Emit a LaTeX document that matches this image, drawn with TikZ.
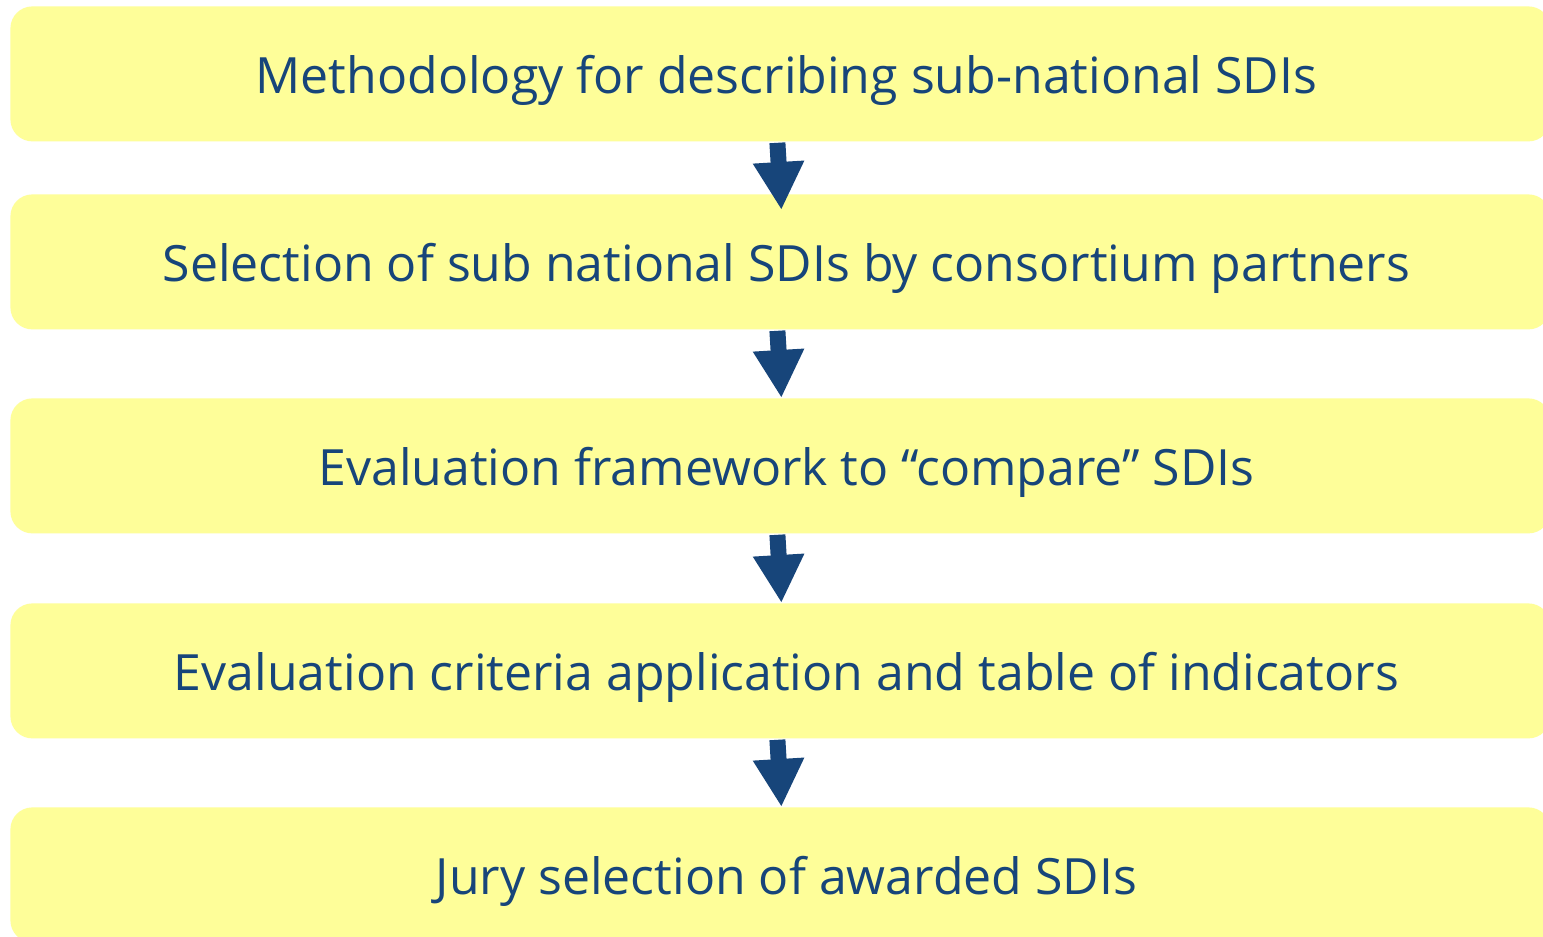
\documentclass[tikz,border=0pt]{standalone}
\usepackage{fontspec}
\setmainfont{Open Sans}
\usetikzlibrary{arrows.meta}
\definecolor{boxyellow}{HTML}{FEFE99}
\definecolor{navy}{HTML}{17457A}
\newcommand{\steptext}[1]{\hspace*{6pt}#1}
\tikzset{
  stepbox/.style={rectangle, rounded corners=11pt, fill=boxyellow, draw=none,
    minimum width=770pt, minimum height=67.5pt, inner sep=0pt, anchor=north west,
    text height=19.5pt, text depth=0pt,
    text=navy, font=\fontsize{25pt}{30pt}\selectfont},
  bigarrow/.style={draw=navy, line width=8pt, -{Triangle[width=24pt,length=24pt]}}
}
\begin{document}
\begin{tikzpicture}[x=0.5pt,y=-0.5pt]
\clip (0,0) rectangle (1543,937);
\fill[white] (0,0) rectangle (1543,937);
\node[stepbox] (b1) at (10,6) {\steptext{Methodology for describing sub-national SDIs}};
\node[stepbox] (b2) at (10,194) {\steptext{Selection of sub national SDIs by consortium partners}};
\node[stepbox] (b3) at (10,398) {\steptext{Evaluation framework to “compare” SDIs}};
\node[stepbox] (b4) at (10,603) {\steptext{Evaluation criteria application and table of indicators}};
\node[stepbox] (b5) at (10,807) {\steptext{Jury selection of awarded SDIs}};
\draw[bigarrow] ([xshift=-1.5pt,yshift=-0.5pt]b1.south) -- ([xshift=0.5pt,yshift=-8pt]b2.north);
\draw[bigarrow] ([xshift=-1.5pt,yshift=-0.5pt]b2.south) -- ([xshift=0.5pt,yshift=0pt]b3.north);
\draw[bigarrow] ([xshift=-1.5pt,yshift=-0.5pt]b3.south) -- ([xshift=0.5pt,yshift=0pt]b4.north);
\draw[bigarrow] ([xshift=-1.5pt,yshift=-0.5pt]b4.south) -- ([xshift=0.5pt,yshift=0pt]b5.north);
\end{tikzpicture}
\end{document}
